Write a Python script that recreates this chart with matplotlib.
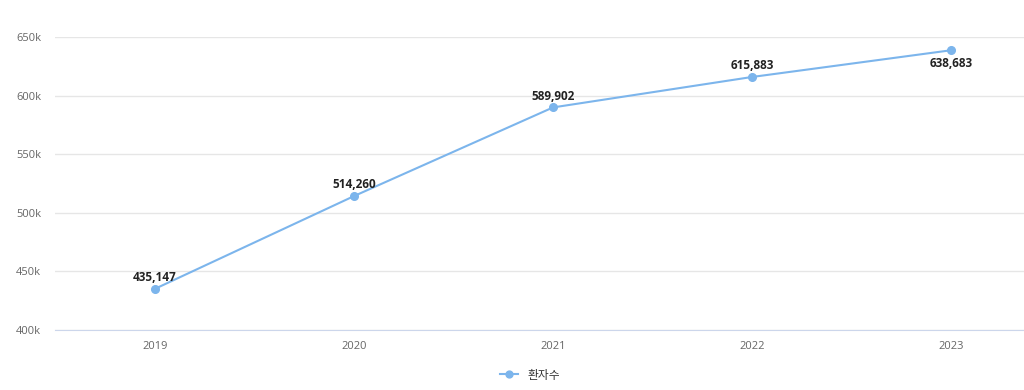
import matplotlib.pyplot as plt
import numpy as np

plt.rcParams['font.family'] = ['Open Sans', 'Noto Sans CJK KR', 'DejaVu Sans']

# 연도별 환자수
years = ['2019', '2020', '2021', '2022', '2023']
patients = [435147, 514260, 589902, 615883, 638683]
y_ticks = [400000, 450000, 500000, 550000, 600000, 650000]
y_tick_labels = ['400k', '450k', '500k', '550k', '600k', '650k']

line_color = '#7cb5ec'

fig = plt.figure(figsize=(10.24, 3.9), dpi=100)
ax = fig.add_axes([55 / 1024, 1 - 330 / 390, 1 - 55 / 1024, (330 - 37) / 390])

x = np.arange(len(years))
ax.plot(x, patients, color=line_color, linewidth=1.5, marker='o', markersize=5.5,
        label='환자수', zorder=3)

# data labels (last one sits below the point)
for i, v in enumerate(patients):
    if i == len(patients) - 1:
        ax.annotate(f'{v:,}', (x[i], v), xytext=(0, -5), textcoords='offset points',
                    ha='center', va='top', fontsize=8.5, fontweight='bold', color='#222222')
    else:
        ax.annotate(f'{v:,}', (x[i], v), xytext=(0, 3.5), textcoords='offset points',
                    ha='center', va='bottom', fontsize=8.5, fontweight='bold', color='#222222')

ax.set_xlim(-0.5025, (1024 - 155) / 199)
ax.set_ylim(400000, 650000)
ax.set_xticks(x)
ax.set_xticklabels(years)
ax.set_yticks(y_ticks)
ax.set_yticklabels(y_tick_labels)

ax.grid(axis='y', color='#e6e6e6', linewidth=1)
ax.set_axisbelow(True)
for s in ['top', 'right', 'left']:
    ax.spines[s].set_visible(False)
ax.spines['bottom'].set_color('#ccd6eb')
ax.tick_params(axis='both', length=0, colors='#666666', labelsize=8)
ax.tick_params(axis='x', pad=8)
ax.tick_params(axis='y', pad=10)

fig.legend(loc='center', bbox_to_anchor=(530 / 1024, 1 - 375 / 390), frameon=False,
           fontsize=8.5, handlelength=1.6, markerscale=0.9, labelcolor='#333333')

fig.savefig('out.png', dpi=100)
